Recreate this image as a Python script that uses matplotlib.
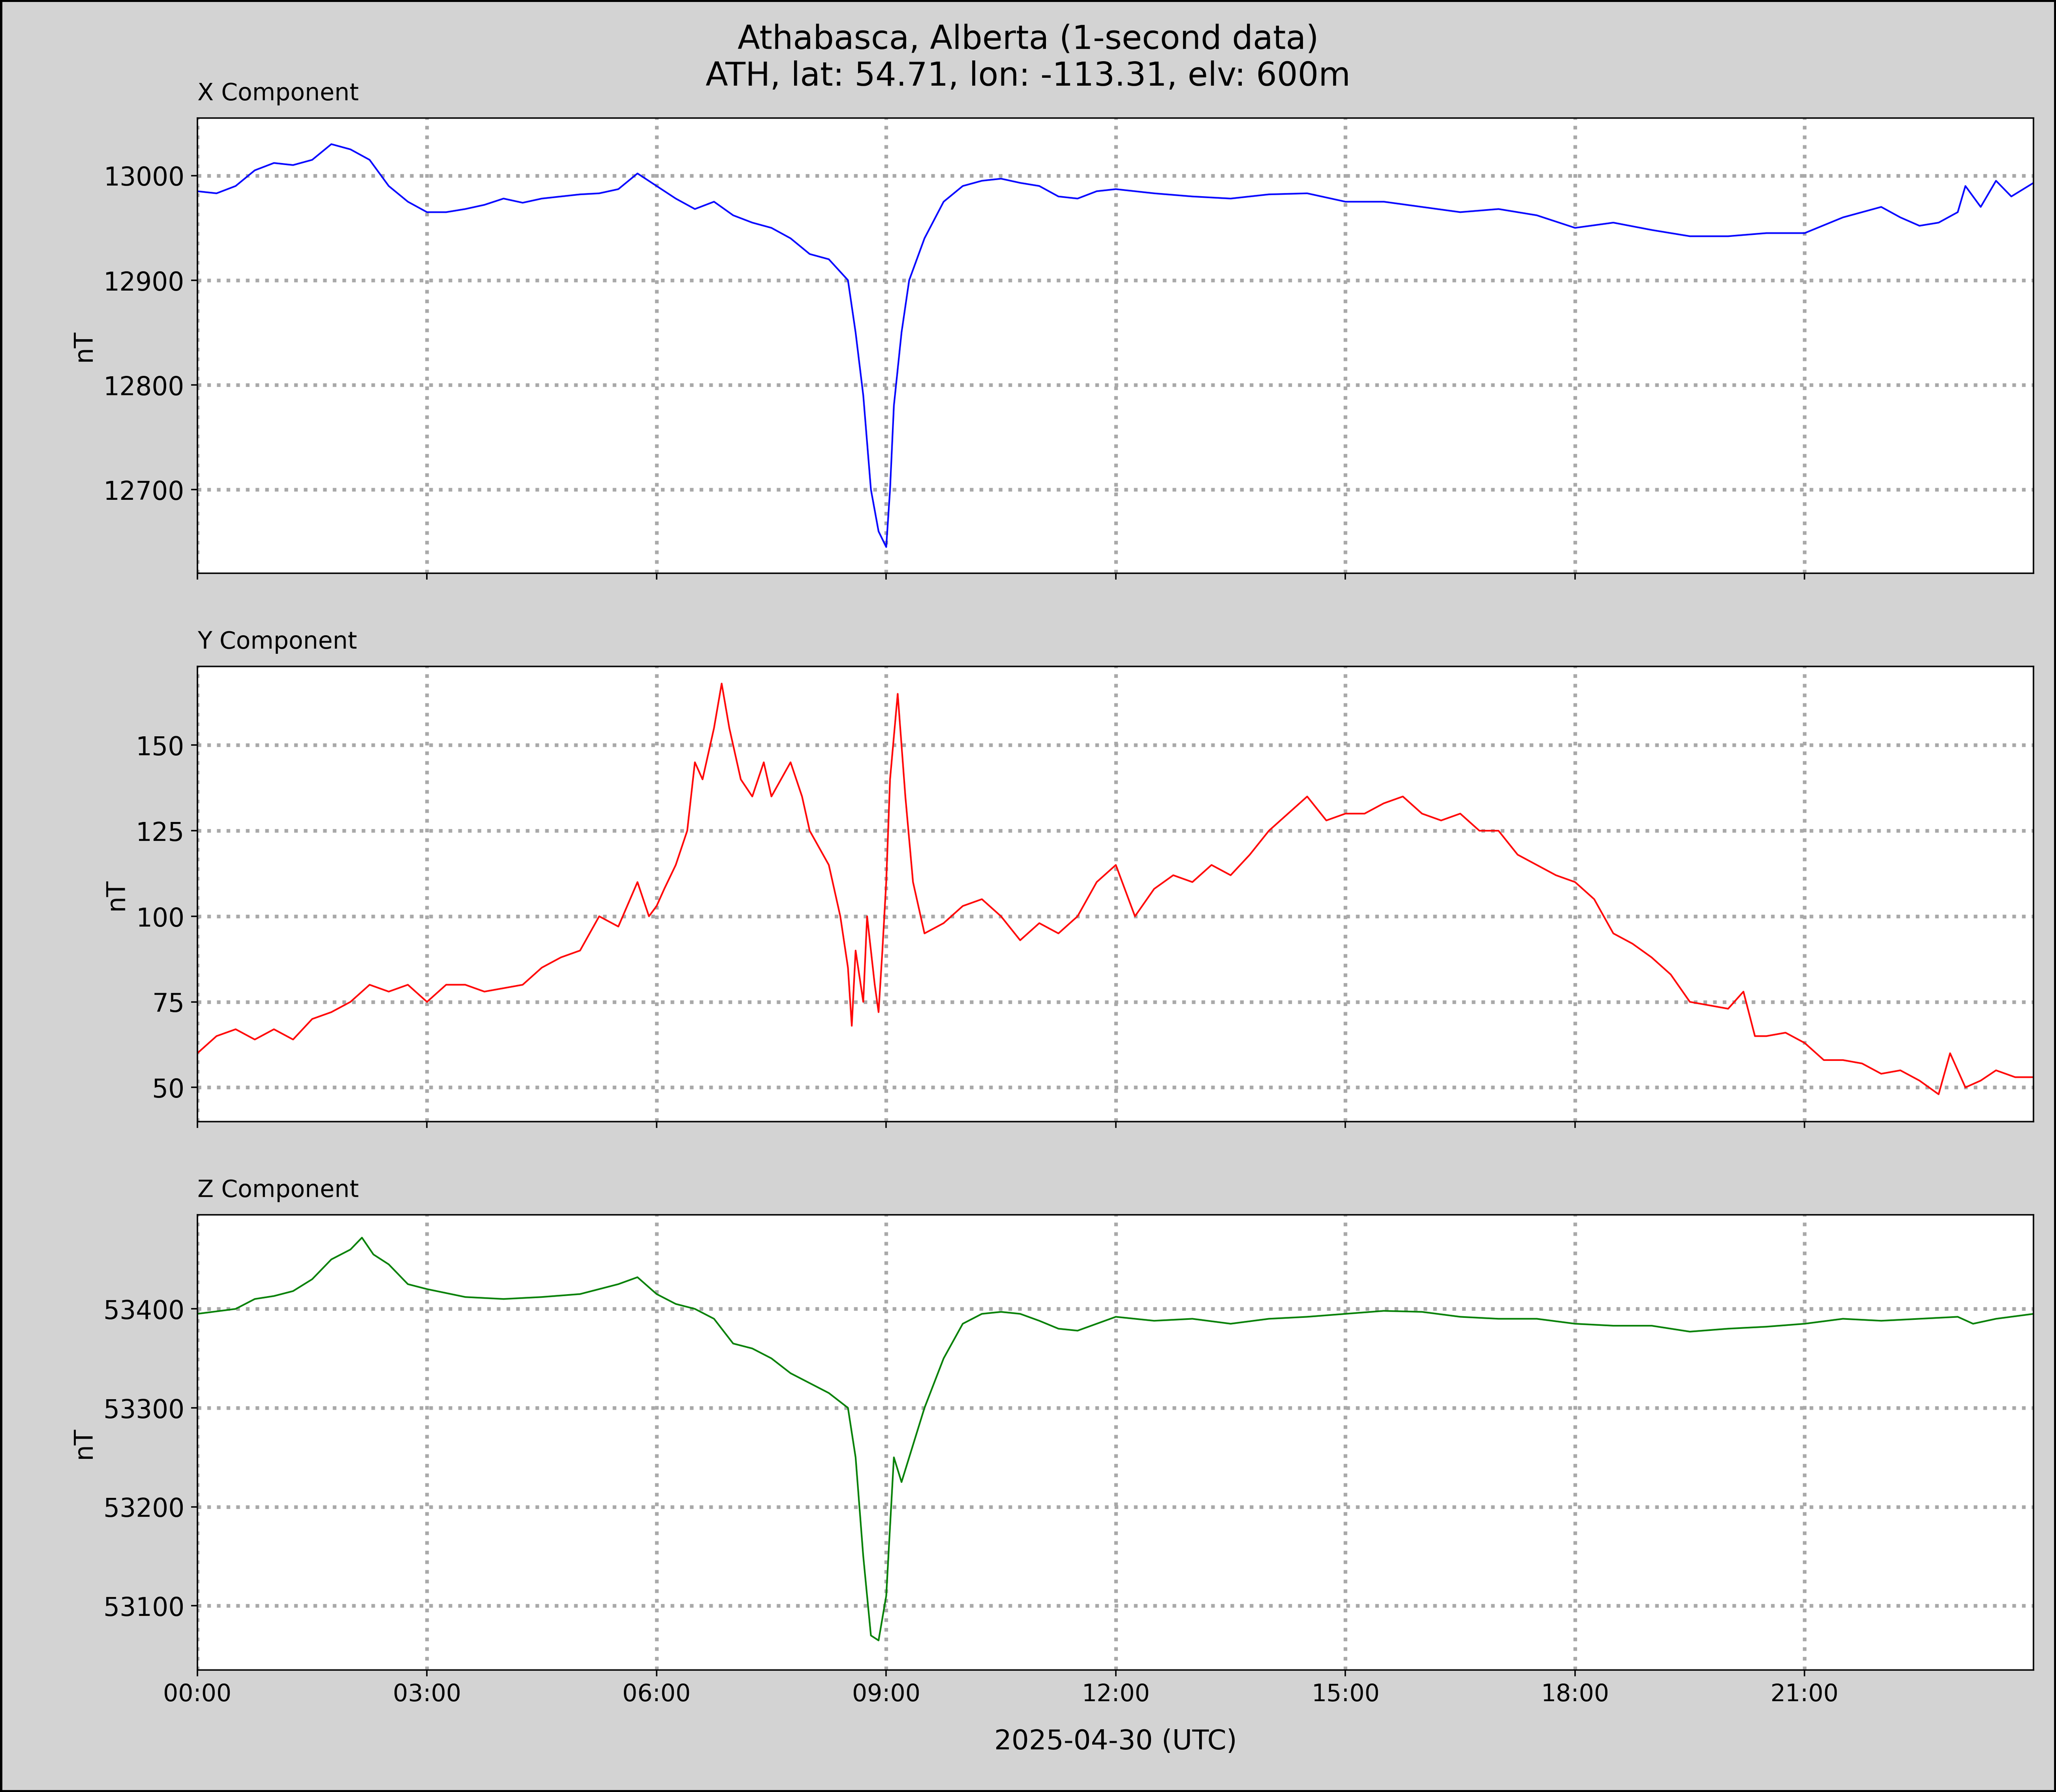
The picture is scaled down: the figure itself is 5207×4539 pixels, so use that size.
import matplotlib.pyplot as plt
from matplotlib.ticker import FuncFormatter, MultipleLocator

# hours since 00:00 UTC, values in nT
x_t = [0, .25, .5, .75, 1, 1.25, 1.5, 1.75, 2, 2.25, 2.5, 2.75, 3, 3.25, 3.5, 3.75, 4, 4.25, 4.5,
       4.75, 5, 5.25, 5.5, 5.75, 6, 6.25, 6.5, 6.75, 7, 7.25, 7.5, 7.75, 8, 8.25, 8.5, 8.6, 8.7,
       8.8, 8.9, 9, 9.05, 9.1, 9.2, 9.3, 9.5, 9.75, 10, 10.25, 10.5, 10.75, 11, 11.25, 11.5, 11.75,
       12, 12.5, 13, 13.5, 14, 14.5, 15, 15.5, 16, 16.5, 17, 17.5, 18, 18.5, 19, 19.5, 20, 20.5,
       21, 21.5, 22, 22.25, 22.5, 22.75, 23, 23.1, 23.3, 23.5, 23.7, 23.99]
x_v = [12985, 12983, 12990, 13005, 13012, 13010, 13015, 13030, 13025, 13015, 12990, 12975, 12965,
       12965, 12968, 12972, 12978, 12974, 12978, 12980, 12982, 12983, 12987, 13002, 12990, 12978,
       12968, 12975, 12962, 12955, 12950, 12940, 12925, 12920, 12900, 12850, 12790, 12700, 12660,
       12645, 12700, 12780, 12850, 12900, 12940, 12975, 12990, 12995, 12997, 12993, 12990, 12980,
       12978, 12985, 12987, 12983, 12980, 12978, 12982, 12983, 12975, 12975, 12970, 12965, 12968,
       12962, 12950, 12955, 12948, 12942, 12942, 12945, 12945, 12960, 12970, 12960, 12952, 12955,
       12965, 12990, 12970, 12995, 12980, 12993]

y_t = [0, .25, .5, .75, 1, 1.25, 1.5, 1.75, 2, 2.25, 2.5, 2.75, 3, 3.25, 3.5, 3.75, 4, 4.25, 4.5,
       4.75, 5, 5.25, 5.5, 5.75, 5.9, 6, 6.1, 6.25, 6.4, 6.5, 6.6, 6.75, 6.85, 6.95, 7.1, 7.25, 7.4,
       7.5, 7.75, 7.9, 8, 8.25, 8.4, 8.5, 8.55, 8.6, 8.7, 8.75, 8.85, 8.9, 8.95, 9, 9.05, 9.15, 9.25,
       9.35, 9.5, 9.75, 10, 10.25, 10.5, 10.75, 11, 11.25, 11.5, 11.75, 12, 12.25, 12.5, 12.75, 13,
       13.25, 13.5, 13.75, 14, 14.25, 14.5, 14.75, 15, 15.25, 15.5, 15.75, 16, 16.25, 16.5, 16.75,
       17, 17.25, 17.5, 17.75, 18, 18.25, 18.5, 18.75, 19, 19.25, 19.5, 19.75, 20, 20.2, 20.35, 20.5,
       20.75, 21, 21.25, 21.5, 21.75, 22, 22.25, 22.5, 22.75, 22.9, 23.1, 23.3, 23.5, 23.75, 23.99]
y_v = [60, 65, 67, 64, 67, 64, 70, 72, 75, 80, 78, 80, 75, 80, 80, 78, 79, 80, 85, 88, 90, 100, 97,
       110, 100, 103, 108, 115, 125, 145, 140, 155, 168, 155, 140, 135, 145, 135, 145, 135, 125, 115,
       100, 85, 68, 90, 75, 100, 80, 72, 90, 110, 140, 165, 135, 110, 95, 98, 103, 105, 100, 93, 98,
       95, 100, 110, 115, 100, 108, 112, 110, 115, 112, 118, 125, 130, 135, 128, 130, 130, 133, 135,
       130, 128, 130, 125, 125, 118, 115, 112, 110, 105, 95, 92, 88, 83, 75, 74, 73, 78, 65, 65, 66,
       63, 58, 58, 57, 54, 55, 52, 48, 60, 50, 52, 55, 53, 53]

z_t = [0, .5, .75, 1, 1.25, 1.5, 1.75, 2, 2.15, 2.3, 2.5, 2.75, 3, 3.5, 4, 4.5, 5, 5.25, 5.5, 5.75,
       6, 6.25, 6.5, 6.75, 7, 7.25, 7.5, 7.75, 8, 8.25, 8.5, 8.6, 8.7, 8.8, 8.9, 9, 9.05, 9.1, 9.2,
       9.3, 9.5, 9.75, 10, 10.25, 10.5, 10.75, 11, 11.25, 11.5, 11.75, 12, 12.5, 13, 13.5, 14, 14.5,
       15, 15.5, 16, 16.5, 17, 17.5, 18, 18.5, 19, 19.5, 20, 20.5, 21, 21.5, 22, 22.5, 23, 23.2,
       23.5, 23.99]
z_v = [53395, 53400, 53410, 53413, 53418, 53430, 53450, 53460, 53472, 53455, 53445, 53425, 53420,
       53412, 53410, 53412, 53415, 53420, 53425, 53432, 53415, 53405, 53400, 53390, 53365, 53360,
       53350, 53335, 53325, 53315, 53300, 53250, 53150, 53070, 53065, 53110, 53180, 53250, 53225,
       53250, 53300, 53350, 53385, 53395, 53397, 53395, 53388, 53380, 53378, 53385, 53392, 53388,
       53390, 53385, 53390, 53392, 53395, 53398, 53397, 53392, 53390, 53390, 53385, 53383, 53383,
       53377, 53380, 53382, 53385, 53390, 53388, 53390, 53392, 53385, 53390, 53395]

panels = [
    ("X Component", x_t, x_v, "blue", (12620, 13055), 100),
    ("Y Component", y_t, y_v, "red", (40, 173), 25),
    ("Z Component", z_t, z_v, "green", (53035, 53495), 100),
]

fig = plt.figure(figsize=(15.68, 13.67), dpi=332.1, facecolor="lightgray",
                 edgecolor="black", linewidth=2)
bottoms = [0.680, 0.374, 0.068]
for i, (name, t, v, color, ylim, step) in enumerate(panels):
    ax = fig.add_axes([0.096, bottoms[i], 0.893, 0.254])
    ax.plot(t, v, color=color, lw=0.9)
    ax.set_xlim(0, 23.99)
    ax.set_ylim(*ylim)
    ax.yaxis.set_major_locator(MultipleLocator(step))
    ax.xaxis.set_major_locator(MultipleLocator(3))
    ax.xaxis.set_major_formatter(FuncFormatter(lambda h, _: f"{int(h) % 24:02d}:00"))
    ax.grid(True, ls=":", color="darkgray", lw=2)
    ax.set_ylabel("nT", fontsize=14)
    ax.tick_params(axis="y", labelsize=14)
    ax.tick_params(axis="x", labelsize=13)
    ax.set_title(name, loc="left", fontsize=13, pad=10)
    if i < 2:
        ax.tick_params(labelbottom=False)
    else:
        ax.set_xlabel("2025-04-30 (UTC)", fontsize=15, labelpad=12)

fig.suptitle("Athabasca, Alberta (1-second data)\nATH, lat: 54.71, lon: -113.31, elv: 600m",
             fontsize=18, y=0.987)
fig.savefig("out.png", facecolor=fig.get_facecolor(), edgecolor=fig.get_edgecolor())
